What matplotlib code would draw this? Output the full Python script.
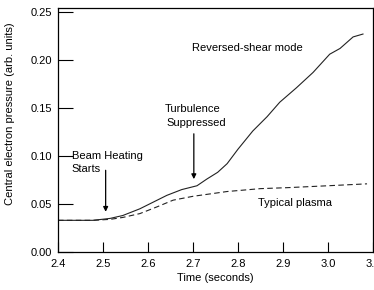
import matplotlib
matplotlib.use("Agg")
import matplotlib.pyplot as plt

plt.rcParams['font.family'] = ['Liberation Sans', 'DejaVu Sans']

# reversed-shear mode (solid)
t_rs = [2.40, 2.478, 2.516, 2.544, 2.582, 2.612, 2.642, 2.675, 2.709, 2.731,
        2.755, 2.776, 2.80, 2.833, 2.865, 2.893, 2.93, 2.967, 3.004, 3.027,
        3.056, 3.078]
p_rs = [0.033, 0.033, 0.035, 0.038, 0.045, 0.052, 0.059, 0.065, 0.069, 0.076,
        0.083, 0.092, 0.107, 0.126, 0.141, 0.156, 0.171, 0.187, 0.206, 0.212,
        0.224, 0.227]

# typical plasma (dashed)
t_typ = [2.40, 2.478, 2.516, 2.544, 2.582, 2.62, 2.656, 2.70, 2.776, 2.85,
         2.909, 3.0, 3.087]
p_typ = [0.033, 0.033, 0.034, 0.036, 0.040, 0.047, 0.054, 0.058, 0.063, 0.066,
         0.067, 0.069, 0.071]

xticks = [2.4, 2.5, 2.6, 2.7, 2.8, 2.9, 3.0, 3.1]
yticks = [0.00, 0.05, 0.10, 0.15, 0.20, 0.25]

fig = plt.figure(figsize=(3.74, 2.9), dpi=100)
ax = fig.add_axes([0.155, 0.131, 0.842, 0.841])

ax.plot(t_rs, p_rs, color='#222222', lw=0.8)
ax.plot(t_typ, p_typ, color='#222222', lw=0.8, ls=(0, (5, 3)))

ax.set_xlim(2.4, 3.1)
ax.set_ylim(0, 0.254)
ax.set_xticks(xticks)
ax.set_xticklabels(['%.1f' % v for v in xticks])
ax.set_yticks(yticks)
ax.set_yticklabels(['%.2f' % v for v in yticks])
ax.tick_params(axis='x', direction='in', length=7, labelsize=8, pad=5)
ax.tick_params(axis='y', direction='in', length=11, labelsize=8, pad=4)
for s in ax.spines.values():
    s.set_linewidth(0.9)

ax.set_xlabel('Time (seconds)', fontsize=8, labelpad=3)
ax.set_ylabel('Central electron pressure (arb. units)', fontsize=8)
ax.yaxis.set_label_coords(-0.137, 0.566)

ax.text(2.698, 0.212, 'Reversed-shear mode', fontsize=8, va='center')
ax.text(2.637, 0.149, 'Turbulence', fontsize=8, va='center')
ax.text(2.641, 0.134, 'Suppressed', fontsize=8, va='center')
ax.text(2.431, 0.100, 'Beam Heating', fontsize=8, va='center')
ax.text(2.431, 0.086, 'Starts', fontsize=8, va='center')
ax.text(2.844, 0.051, 'Typical plasma', fontsize=8, va='center')

arrow = dict(arrowstyle='-|>', color='black', lw=0.9, mutation_scale=7)
ax.annotate('', xy=(2.506, 0.039), xytext=(2.506, 0.088), arrowprops=arrow)
ax.annotate('', xy=(2.702, 0.073), xytext=(2.702, 0.126), arrowprops=arrow)

fig.savefig('out.png', dpi=100)
